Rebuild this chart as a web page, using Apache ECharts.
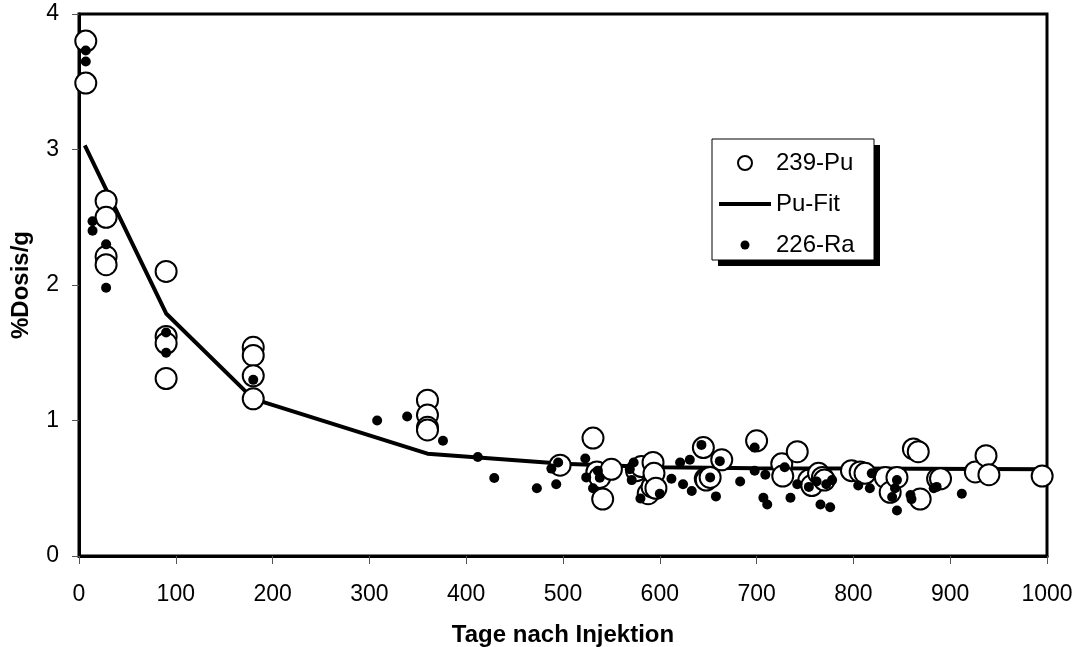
<!DOCTYPE html>
<html>
<head>
<meta charset="utf-8">
<script src="https://cdn.jsdelivr.net/npm/echarts@6/dist/echarts.min.js"></script>
<style>html,body{margin:0;padding:0;background:#fff;}#c{width:1075px;height:647px;}</style>
</head>
<body>
<div id="c"></div>
<script>
// 239-Pu measurements (days, %Dosis/g)
const puDays = [7,7,28,28,28,28,90,90,90,90,180,180,180,180,360,360,360,360,
  497,531,535,538,541,550,576,581,588,592,593,594,596,
  645,647,648,652,664,700,726,727,742,754,757,764,768,770,
  798,807,812,833,838,845,862,867,869,887,890,926,937,940,995];
const puVals = [3.80,3.49,2.62,2.50,2.21,2.15,2.10,1.62,1.57,1.31,1.54,1.48,1.33,1.16,1.15,1.04,0.95,0.93,
  0.67,0.87,0.62,0.58,0.42,0.64,0.63,0.66,0.46,0.51,0.69,0.61,0.50,
  0.80,0.57,0.56,0.58,0.71,0.85,0.68,0.59,0.77,0.56,0.52,0.61,0.58,0.56,
  0.63,0.62,0.61,0.58,0.47,0.58,0.79,0.77,0.42,0.57,0.57,0.62,0.74,0.60,0.59];

// Pu fit curve
const fitDays = [6,90,180,360,500,600,700,800,1000];
const fitVals = [3.03,1.79,1.16,0.755,0.68,0.655,0.648,0.645,0.64];

// 226-Ra measurements
const raDays = [7,7,14,14,28,28,90,90,180,308,339,376,412,429,473,488,493,495,
  523,524,531,536,538,569,571,573,580,600,612,621,624,631,633,643,652,658,662,
  683,698,698,707,709,711,729,735,742,754,762,766,772,776,778,
  805,817,819,840,843,845,845,859,860,883,886,912];
const raVals = [3.73,3.65,2.47,2.40,2.30,1.98,1.65,1.50,1.30,1.00,1.03,0.85,0.73,0.575,0.50,0.645,0.53,0.69,
  0.72,0.58,0.50,0.63,0.578,0.64,0.56,0.69,0.425,0.46,0.57,0.69,0.53,0.71,0.48,0.82,0.58,0.44,0.70,
  0.55,0.80,0.63,0.43,0.60,0.38,0.655,0.43,0.53,0.51,0.55,0.38,0.53,0.36,0.56,
  0.52,0.50,0.61,0.435,0.50,0.56,0.336,0.45,0.42,0.50,0.51,0.46];

const xTicks = [0,100,200,300,400,500,600,700,800,900,1000];
const yTicks = [0,1,2,3,4];

const zip = (a, b) => a.map((v, i) => [v, b[i]]);
const FONT = '"Liberation Sans", Arial, sans-serif';

const chart = echarts.init(document.getElementById('c'), null, {renderer: 'canvas'});
chart.setOption({
  animation: false,
  backgroundColor: '#fff',
  grid: {left: 79, right: 28, top: 14, bottom: 91, containLabel: false, outerBoundsMode: 'none',
    show: true, borderColor: '#000', borderWidth: 3, backgroundColor: 'transparent'},
  xAxis: {
    type: 'value', min: xTicks[0], max: xTicks[xTicks.length - 1], interval: 100,
    name: 'Tage nach Injektion', nameLocation: 'middle', nameGap: 67,
    nameTextStyle: {fontFamily: FONT, fontSize: 24, fontWeight: 'bold', color: '#000'},
    axisLine: {show: true, lineStyle: {color: '#000', width: 3}},
    axisTick: {show: true, length: 8, lineStyle: {color: '#555', width: 1}},
    axisLabel: {fontFamily: FONT, fontSize: 23, color: '#000', margin: 27, formatter: v => String(v)},
    splitLine: {show: false}
  },
  yAxis: {
    type: 'value', min: yTicks[0], max: yTicks[yTicks.length - 1], interval: 1,
    name: '%Dosis/g', nameLocation: 'middle', nameGap: 46,
    nameTextStyle: {fontFamily: FONT, fontSize: 24, fontWeight: 'bold', color: '#000'},
    axisLine: {show: true, lineStyle: {color: '#000', width: 3}},
    axisTick: {show: true, length: 7, lineStyle: {color: '#555', width: 1}},
    axisLabel: {fontFamily: FONT, fontSize: 23, color: '#000', margin: 20, formatter: v => String(v)},
    splitLine: {show: false}
  },
  graphic: [
    {type: 'rect', z: 1, shape: {x: 718, y: 145, width: 162, height: 121}, style: {fill: '#000'}},
    {type: 'rect', z: 2, shape: {x: 712, y: 139, width: 162, height: 121}, style: {fill: '#fff', stroke: '#000', lineWidth: 1}}
  ],
  legend: {
    orient: 'vertical', left: 712, top: 139, z: 10,
    data: [
      {name: '239-Pu', icon: 'circle'},
      {name: 'Pu-Fit', icon: 'path://M0,0 H52 V4 H0 Z'},
      {name: '226-Ra', icon: 'path://M0,0 M20,20 M3.6,10 A6.4,6.4 0 1 0 16.4,10 A6.4,6.4 0 1 0 3.6,10 Z'}
    ],
    itemWidth: 52, itemHeight: 14, itemGap: 17,
    padding: [12, 11, 4, 7],
    textStyle: {fontFamily: FONT, fontSize: 24, color: '#000', lineHeight: 24},
    selectedMode: false
  },
  series: [
    {
      name: 'Pu-Fit', type: 'line', data: zip(fitDays, fitVals), z: 2,
      symbol: 'none', showSymbol: false, smooth: false,
      lineStyle: {color: '#000', width: 4}, itemStyle: {color: '#000'}
    },
    {
      name: '239-Pu', type: 'scatter', data: zip(puDays, puVals), z: 3,
      symbol: 'circle', symbolSize: 21,
      itemStyle: {color: '#fff', borderColor: '#000', borderWidth: 2, opacity: 1}
    },
    {
      name: '226-Ra', type: 'scatter', data: zip(raDays, raVals), z: 4,
      symbol: 'circle', symbolSize: 10,
      itemStyle: {color: '#000', opacity: 1}
    }
  ]
});
</script>
</body>
</html>
